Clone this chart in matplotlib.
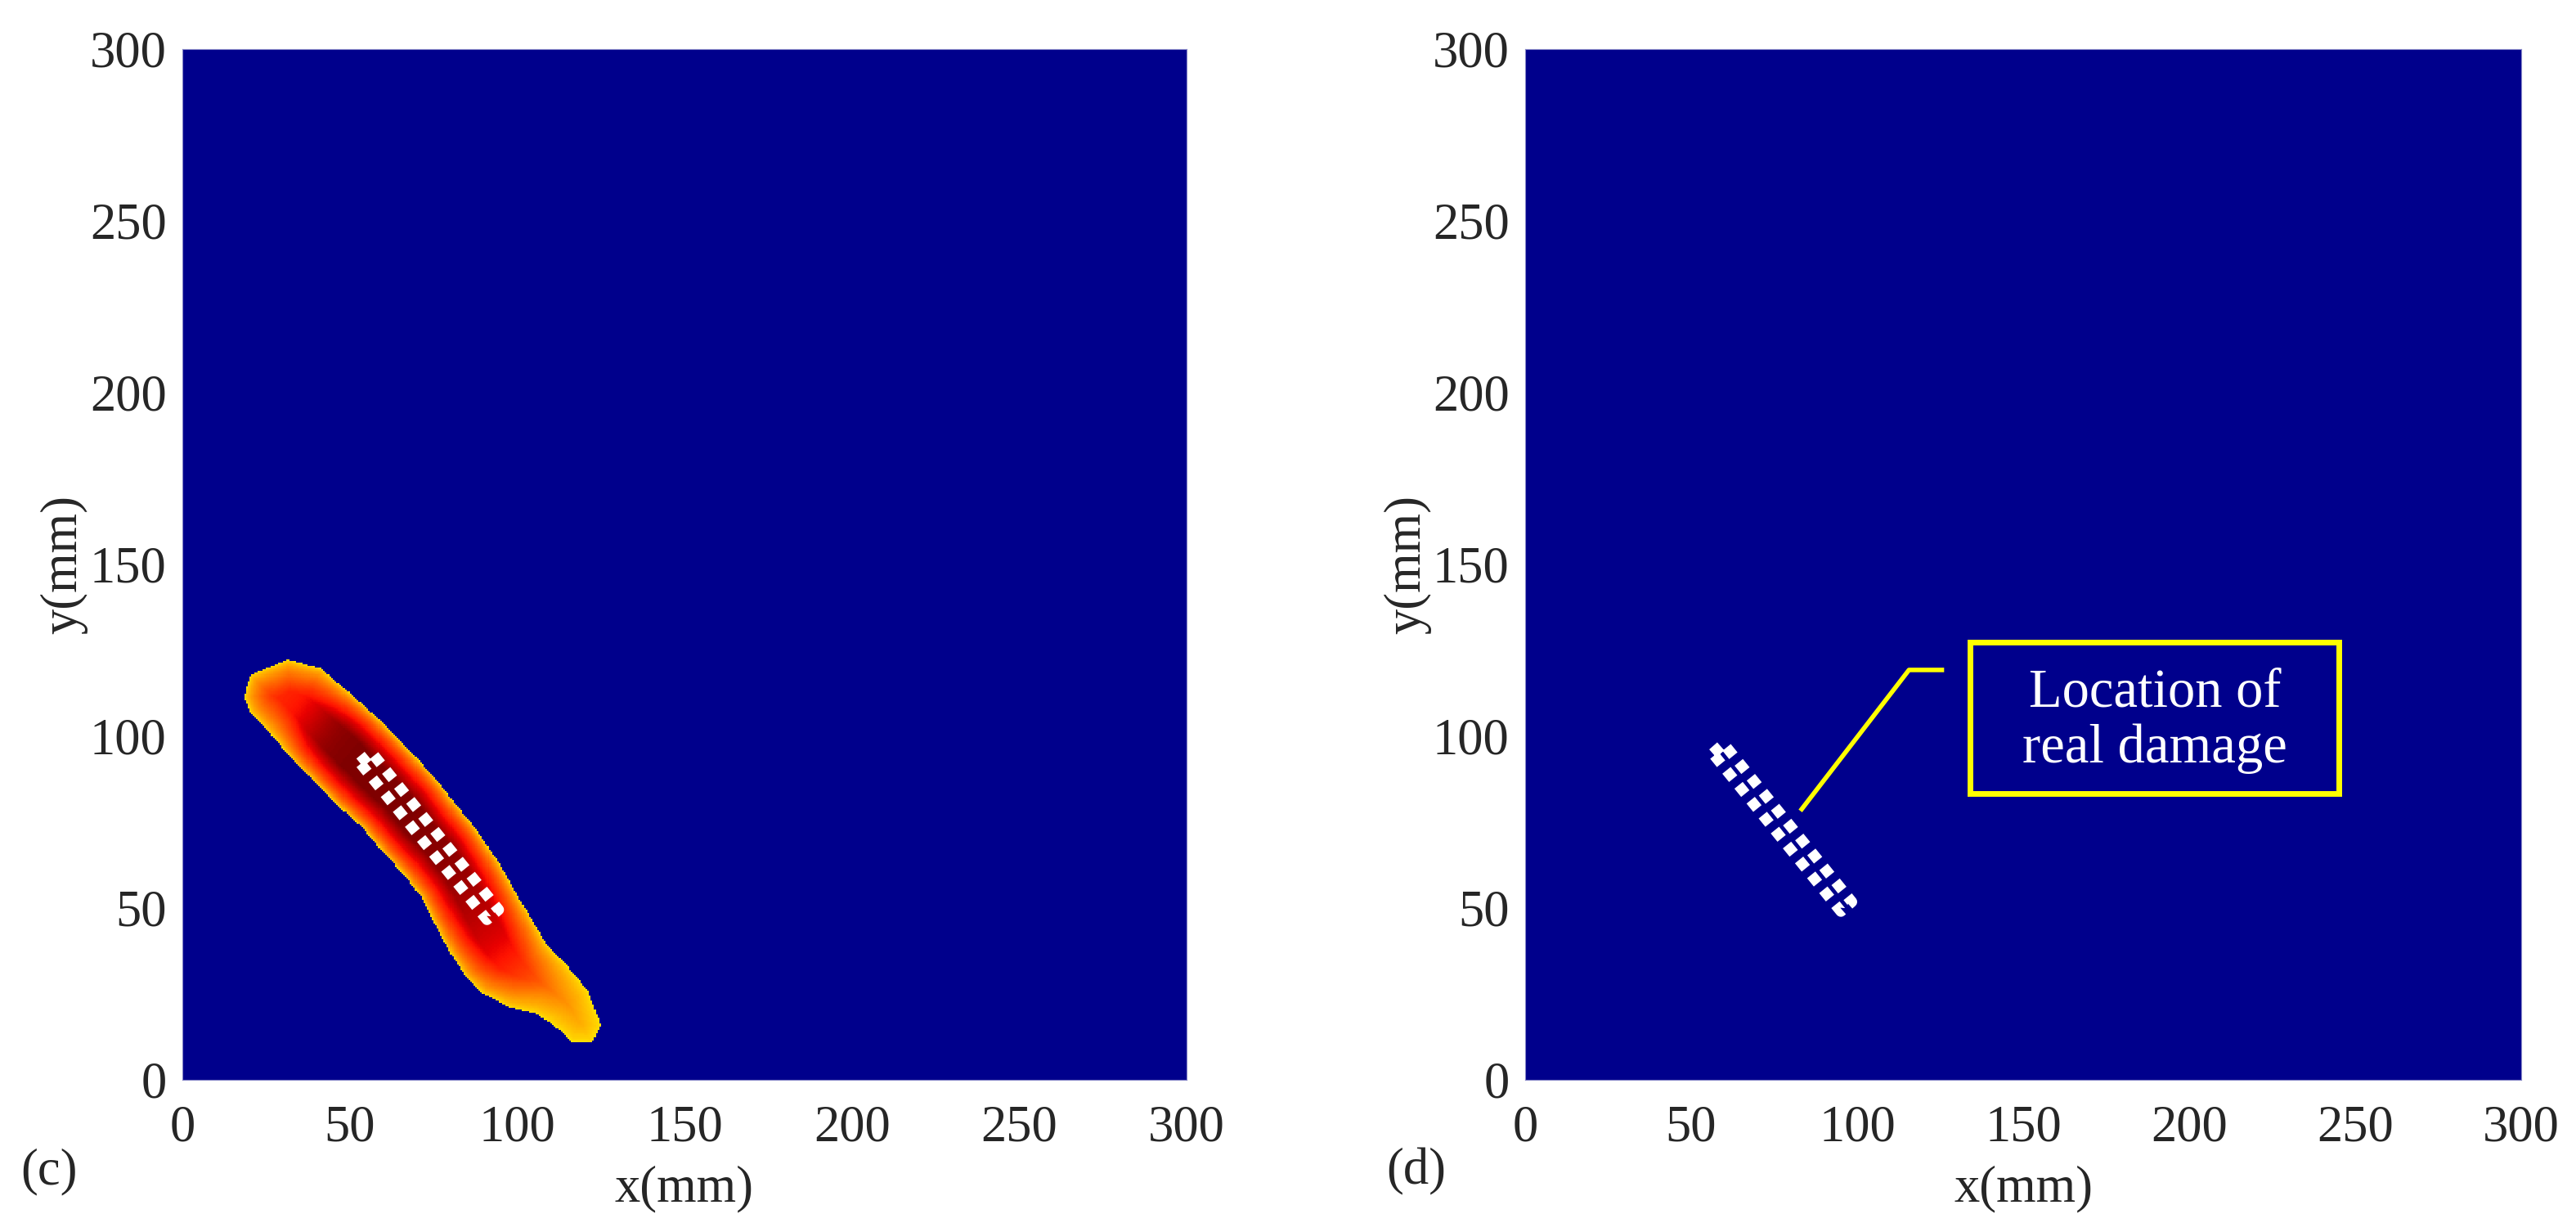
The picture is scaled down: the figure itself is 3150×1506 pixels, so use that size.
import numpy as np
import matplotlib
matplotlib.use("Agg")
import matplotlib.pyplot as plt
from matplotlib.path import Path
from matplotlib.patches import Rectangle

plt.rcParams['font.family'] = ['Liberation Serif', 'DejaVu Serif']

# outline of the identified damage zone in panel (c), mm
blob_x = [31.5, 20.3, 18.4, 20.3, 26.5, 32.8, 40.3, 47.7, 54.0, 60.2, 66.4, 71.4,
          75.2, 80.2, 85.1, 90.1, 97.6, 105.1, 110.1, 116.3, 122.5, 125.0, 121.3,
          115.0, 108.8, 102.6, 95.1, 87.6, 81.4, 76.4, 67.7, 57.7, 50.2, 41.5, 31.5]
blob_y = [122.4, 117.8, 111.5, 106.9, 100.5, 93.2, 85.9, 78.7, 73.2, 65.9, 59.5, 53.1,
          45.8, 36.7, 29.4, 24.9, 21.2, 19.4, 16.7, 11.2, 10.8, 15.8, 25.8,
          33.1, 39.5, 49.5, 62.3, 73.2, 80.5, 86.9, 96.0, 106.0, 112.4, 119.7, 122.4]

# peak intensity along the zone (jet scale)
peak_x = [30, 48, 62, 78, 90, 100, 110, 120]
peak_y = [112, 98, 84, 66, 50, 37, 25, 16]
peak_v = [0.86, 1.0, 1.0, 0.99, 0.96, 0.89, 0.78, 0.73]

# real damage (dotted rectangle) corners, mm
dmg_c_x = [53.0, 56.6, 94.5, 91.0, 53.0]
dmg_c_y = [92.3, 95.2, 49.5, 46.6, 92.3]
dmg_d_x = [56.5, 59.8, 98.4, 95.1, 56.5]
dmg_d_y = [95.0, 97.8, 51.8, 49.0, 95.0]

# callout in panel (d)
leader_x = [83.3, 115.6, 125.5]
leader_y = [78.8, 119.3, 119.3]
box_x0, box_x1 = 134.1, 245.1
box_y0, box_y1 = 83.3, 127.4

ticks = [0, 50, 100, 150, 200, 250, 300]

# build field on 0.5 mm grid
n = 600
cc = (np.arange(n) + 0.5) * 300 / n
gx, gy = np.meshgrid(cc, cc)
pts = np.column_stack([gx.ravel(), gy.ravel()])
poly = np.column_stack([blob_x, blob_y])
inside = Path(poly).contains_points(pts)

ax0 = poly[:-1, 0][None, :]
ay0 = poly[:-1, 1][None, :]
dx = poly[1:, 0][None, :] - ax0
dy = poly[1:, 1][None, :] - ay0
px = pts[:, 0][:, None]
py = pts[:, 1][:, None]
t = np.clip(((px - ax0) * dx + (py - ay0) * dy) / (dx * dx + dy * dy), 0, 1)
dist = np.sqrt((px - ax0 - t * dx) ** 2 + (py - ay0 - t * dy) ** 2).min(axis=1)

w = np.exp(-((px - np.array(peak_x)[None, :]) ** 2 +
             (py - np.array(peak_y)[None, :]) ** 2) / (2 * 10.0 ** 2))
peak = (w * np.array(peak_v)[None, :]).sum(axis=1) / (w.sum(axis=1) + 1e-12)

val = 0.665 + (peak - 0.665) * np.clip(dist / 9.0, 0, 1) ** 0.6
field = np.ma.masked_where(~inside, val).reshape(n, n)
empty = np.ma.masked_all((n, n))

cmap = plt.get_cmap('jet').with_extremes(bad='#00008c')

fig = plt.figure(figsize=(31.5, 15.06), dpi=100)
ax_c = fig.add_axes([223 / 3150, 186 / 1506, 1228 / 3150, 1260 / 1506])
ax_d = fig.add_axes([1865 / 3150, 186 / 1506, 1218 / 3150, 1260 / 1506])

for ax, data in [(ax_c, field), (ax_d, empty)]:
    ax.imshow(data, cmap=cmap, vmin=0, vmax=1, origin='lower',
              extent=[0, 300, 0, 300], interpolation='nearest', aspect='auto')
    ax.set_xlim(0, 300)
    ax.set_ylim(0, 300)
    ax.set_xticks(ticks)
    ax.set_yticks(ticks)
    ax.tick_params(length=0, labelsize=45, labelcolor='#262626')
    ax.tick_params(axis='x', pad=22)
    ax.tick_params(axis='y', pad=14)
    for s in ax.spines.values():
        s.set_color('#8888c8')
        s.set_linewidth(0.8)
    ax.set_xlabel('x(mm)', fontsize=45, color='#262626')
    ax.set_ylabel('y(mm)', fontsize=45, color='#262626')
    ax.xaxis.set_label_coords(0.5, -0.083)
    ax.yaxis.set_label_coords(-0.094, 0.5)

# dotted rectangles for the real damage
dots = dict(color='white', lw=9.4, linestyle=(0, (1, 0.8)), solid_capstyle='butt')
ax_c.plot(dmg_c_x, dmg_c_y, **dots)
ax_d.plot(dmg_d_x, dmg_d_y, **dots)

# callout
ax_d.plot(leader_x, leader_y, color='#ffff00', lw=4)
ax_d.add_patch(Rectangle((box_x0, box_y0), box_x1 - box_x0, box_y1 - box_y0,
                         fill=False, edgecolor='#ffff00', lw=5))
ax_d.text((box_x0 + box_x1) / 2, 104.5, 'Location of\nreal damage', color='white',
          fontsize=48, ha='center', va='center', linespacing=1.15)

fig.text(60 / 3150, 1 - 1432 / 1506, '(c)', fontsize=45, color='#262626',
         ha='center', va='center')
fig.text(1732 / 3150, 1 - 1432 / 1506, '(d)', fontsize=45, color='#262626',
         ha='center', va='center')

fig.savefig('out.png', dpi=100)
